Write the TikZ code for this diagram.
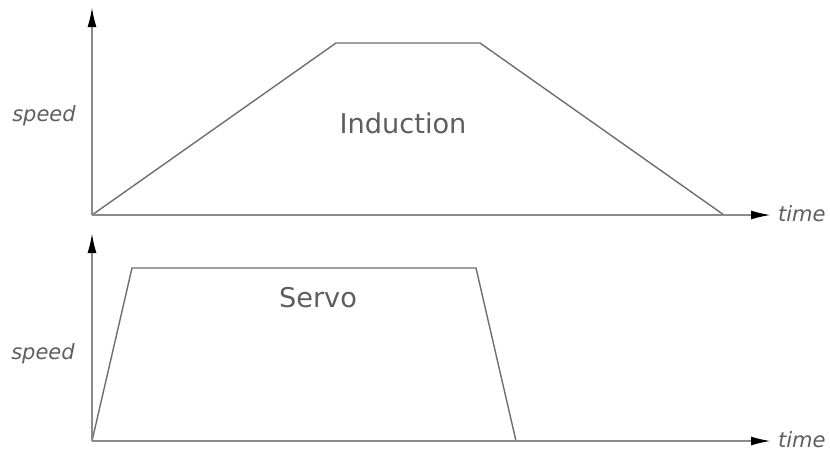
\documentclass[tikz,border=0pt]{standalone}
\usepackage{fontspec}
\setmainfont{DejaVu Sans}
\usetikzlibrary{arrows.meta}

\definecolor{axisgray}{HTML}{8A8A8A}
\definecolor{linegray}{HTML}{6E6E6E}
\definecolor{textgray}{HTML}{5E5E5E}

\tikzset{
    axis/.style={axisgray, line width=1pt,
        -{Latex[length=10pt,width=4.5pt,color=black]}},
    profile/.style={linegray, line width=0.7pt, line join=miter},
    axislabel/.style={textgray, font=\fontsize{10.5}{12}\selectfont\itshape},
    motorlabel/.style={textgray, font=\fontsize{13.6}{16}\selectfont},
}

\begin{document}
\begin{tikzpicture}[x=0.5pt, y=-0.5pt]

    \useasboundingbox (0,0) rectangle (830,452);

    % upper plot
    \coordinate (o1) at (92,215);
    \coordinate (y1) at (92,7);
    \coordinate (x1) at (771,215);

    \draw [profile]
        (o1)
        -- (336,43)
        -- (480,43)
        -- (724,215)
        ;

    \draw [axis] (o1) -- (y1);
    \draw [axis] (o1) -- (x1);

    \node [axislabel, anchor=west] (t1) at (771,214) {time};
    \node [axislabel] (s1) at (44,116) {speed};
    \node [motorlabel] (induction) at (403,123) {Induction};

    % lower plot
    \coordinate (o2) at (92,441);
    \coordinate (y2) at (92,233);
    \coordinate (x2) at (771,441);

    \draw [profile]
        (o2)
        -- (132,268)
        -- (476,268)
        -- (516,441)
        ;

    \draw [axis] (o2) -- (y2);
    \draw [axis] (o2) -- (x2);

    \node [axislabel, anchor=west] (t2) at (771,440) {time};
    \node [axislabel] (s2) at (43,354) {speed};
    \node [motorlabel] (servo) at (318,298) {Servo};

\end{tikzpicture}
\end{document}
